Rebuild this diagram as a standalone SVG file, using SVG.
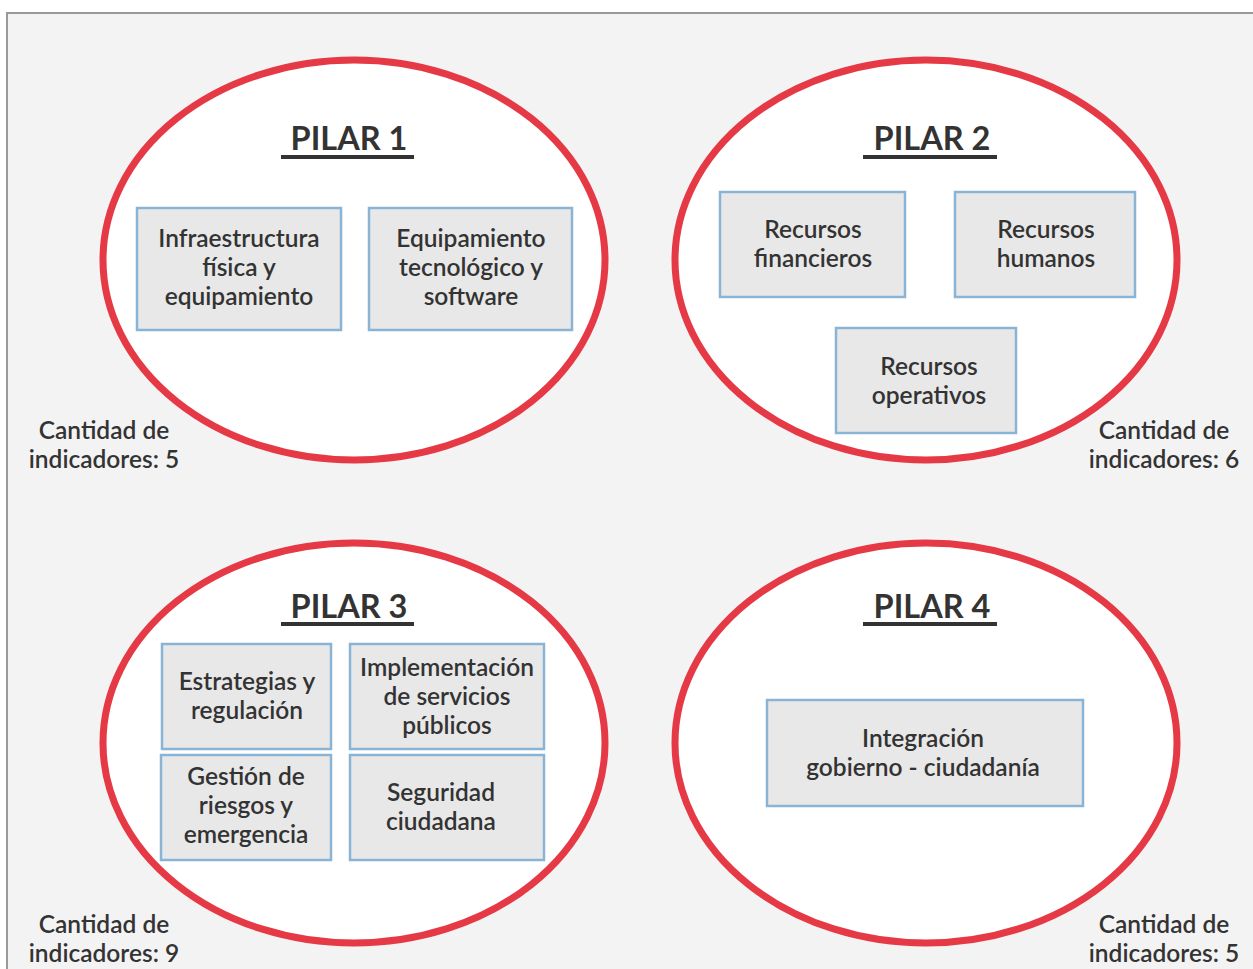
<svg xmlns="http://www.w3.org/2000/svg" width="1253" height="969" viewBox="0 0 1253 969">
<style>
.pillar{fill:#ffffff;stroke:#e63946;stroke-width:7}
.box{fill:#e8e8e8;stroke:#8ab4d6;stroke-width:2.5}
.t{font-family:Lato,"Open Sans",sans-serif;font-size:24.5px;font-weight:600;fill:#333333;text-anchor:middle}
.title{font-family:Lato,"Open Sans",sans-serif;font-size:32.5px;font-weight:bold;fill:#333333;text-anchor:middle}
.ul{fill:#333333}
</style>
<rect x="0" y="0" width="1253" height="969" fill="#ffffff"/>
<rect x="7" y="13" width="1260" height="970" fill="#f3f3f3" stroke="#999999" stroke-width="2"/>
<g id="pilar1">
<ellipse class="pillar" cx="354" cy="260" rx="251" ry="200"/>
<text class="title" x="349" y="150">PILAR 1</text>
<rect class="ul" x="281" y="155" width="133" height="4"/>
<g id="p1-infra"><rect class="box" x="137" y="208" width="204" height="122"/>
<text class="t" x="239" y="247">Infraestructura</text><text class="t" x="239" y="276">física y</text><text class="t" x="239" y="305">equipamiento</text></g>
<g id="p1-equip"><rect class="box" x="369" y="208" width="203" height="122"/>
<text class="t" x="471" y="247">Equipamiento</text><text class="t" x="471" y="276">tecnológico y</text><text class="t" x="471" y="305">software</text></g>
</g>
<g id="pilar2">
<ellipse class="pillar" cx="926" cy="260" rx="251" ry="200"/>
<text class="title" x="932" y="150">PILAR 2</text>
<rect class="ul" x="863" y="155" width="134" height="4"/>
<g id="p2-fin"><rect class="box" x="720" y="192" width="185" height="105"/>
<text class="t" x="813" y="238">Recursos</text><text class="t" x="813" y="267">financieros</text></g>
<g id="p2-hum"><rect class="box" x="955" y="192" width="180" height="105"/>
<text class="t" x="1046" y="238">Recursos</text><text class="t" x="1046" y="267">humanos</text></g>
<g id="p2-op"><rect class="box" x="836" y="328" width="180" height="105"/>
<text class="t" x="929" y="375">Recursos</text><text class="t" x="929" y="404">operativos</text></g>
</g>
<g id="pilar3">
<ellipse class="pillar" cx="354" cy="743" rx="251" ry="200"/>
<text class="title" x="349" y="618">PILAR 3</text>
<rect class="ul" x="281" y="622" width="133" height="4"/>
<g id="p3-estr"><rect class="box" x="162" y="644" width="169" height="105"/>
<text class="t" x="247" y="690">Estrategias y</text><text class="t" x="247" y="719">regulación</text></g>
<g id="p3-impl"><rect class="box" x="350" y="644" width="194" height="105"/>
<text class="t" x="447" y="676">Implementación</text><text class="t" x="447" y="705">de servicios</text><text class="t" x="447" y="734">públicos</text></g>
<g id="p3-gest"><rect class="box" x="161" y="755" width="170" height="105"/>
<text class="t" x="246" y="785">Gestión de</text><text class="t" x="246" y="814">riesgos y</text><text class="t" x="246" y="843">emergencia</text></g>
<g id="p3-seg"><rect class="box" x="350" y="755" width="194" height="105"/>
<text class="t" x="441" y="801">Seguridad</text><text class="t" x="441" y="830">ciudadana</text></g>
</g>
<g id="pilar4">
<ellipse class="pillar" cx="926" cy="743" rx="251" ry="200"/>
<text class="title" x="932" y="618">PILAR 4</text>
<rect class="ul" x="863" y="622" width="134" height="4"/>
<g id="p4-integ"><rect class="box" x="767" y="700" width="316" height="106"/>
<text class="t" x="923" y="747">Integración</text><text class="t" x="923" y="776">gobierno - ciudadanía</text></g>
</g>
<g id="labels">
<text class="t" x="104" y="439">Cantidad de</text><text class="t" x="104" y="468">indicadores: 5</text>
<text class="t" x="1164" y="439">Cantidad de</text><text class="t" x="1164" y="468">indicadores: 6</text>
<text class="t" x="104" y="933">Cantidad de</text><text class="t" x="104" y="962">indicadores: 9</text>
<text class="t" x="1164" y="933">Cantidad de</text><text class="t" x="1164" y="962">indicadores: 5</text>
</g>
<g id="connectors"/>
</svg>
